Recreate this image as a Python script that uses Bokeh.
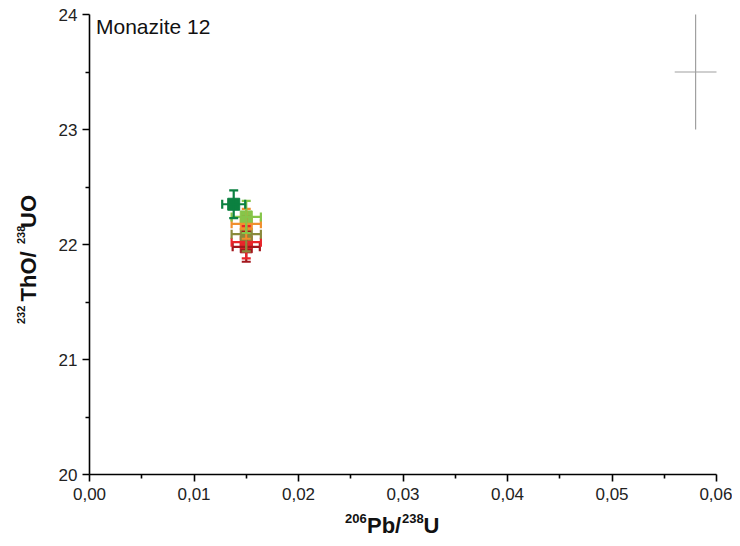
import math
from bokeh.plotting import figure
from bokeh.models import ColumnDataSource, Whisker, TeeHead, Label, FixedTicker, Range1d
from bokeh.embed import file_html
from bokeh.resources import INLINE

# ---- data ----
x_ticks = [0.00, 0.01, 0.02, 0.03, 0.04, 0.05, 0.06]
x_tick_labels = ["0,00", "0,01", "0,02", "0,03", "0,04", "0,05", "0,06"]
x_minor = [0.005, 0.015, 0.025, 0.035, 0.045, 0.055]
y_ticks = [20, 21, 22, 23, 24]
y_tick_labels = ["20", "21", "22", "23", "24"]
y_minor = [20.5, 21.5, 22.5, 23.5]

pb_u = [0.0150, 0.0150, 0.0150, 0.0150, 0.0150, 0.0138]
pb_u_err = [0.0013, 0.0014, 0.0014, 0.0014, 0.0014, 0.0011]
tho_uo = [21.98, 22.02, 22.09, 22.18, 22.24, 22.35]
tho_uo_err = [0.13, 0.14, 0.15, 0.13, 0.14, 0.12]
colors = ["#a3161c", "#e8252b", "#8a8a3c", "#f0902e", "#86c54a", "#0b8040"]

ref_x = [0.058]
ref_y = [23.5]
ref_xerr = [0.002]
ref_yerr = [0.5]

title_text = "Monazite 12"
# axis titles: (text, is_superscript)
x_title_parts = [("206", True), ("Pb/", False), ("238", True), ("U", False)]
y_title_parts = [("232", True), ("ThO/", False), ("238", True), ("UO", False)]

# ---- layout constants ----
X0, X1 = 0.0, 0.06
Y0, Y1 = 20.0, 24.0
LEFT, RIGHT, TOP, BOTTOM = 89, 16, 14, 64
W, H = 732, 538
FW = W - LEFT - RIGHT
FH = H - TOP - BOTTOM
BASE_SHIFT = 0.43  # label anchor vs. drawn baseline, in em
LH = 1.0


def px_x(px):
    return X0 + (px - LEFT) / FW * (X1 - X0)


def px_y(py):
    return Y1 - (py - TOP) / FH * (Y1 - Y0)


# the frame fills the whole canvas; axes are pinned to the data box
p = figure(width=W, height=H,
           x_range=Range1d(px_x(0), px_x(W)), y_range=Range1d(px_y(H), px_y(0)),
           output_backend="svg", toolbar_location=None,
           min_border_left=0, min_border_right=0, min_border_top=0, min_border_bottom=0)
p.title.visible = False
p.outline_line_color = None
p.xgrid.visible = False
p.ygrid.visible = False
p.background_fill_color = "white"
p.border_fill_color = "white"

p.xaxis.fixed_location = Y0
p.yaxis.fixed_location = X0
p.xaxis.bounds = (X0, X1)
p.yaxis.bounds = (Y0, Y1)
p.xaxis.ticker = FixedTicker(ticks=x_ticks, minor_ticks=x_minor)
p.yaxis.ticker = FixedTicker(ticks=y_ticks, minor_ticks=y_minor)
p.xaxis.major_label_overrides = {t: l for t, l in zip(x_ticks, x_tick_labels)}
p.yaxis.major_label_overrides = {t: l for t, l in zip(y_ticks, y_tick_labels)}

for ax in (p.xaxis, p.yaxis):
    ax.axis_line_color = "black"
    ax.axis_line_width = 1.6
    ax.major_tick_line_color = "black"
    ax.major_tick_line_width = 1.6
    ax.minor_tick_line_color = "black"
    ax.minor_tick_line_width = 1.6
    ax.major_tick_in = 0
    ax.major_tick_out = 7
    ax.minor_tick_in = 0
    ax.minor_tick_out = 4
    ax.major_label_text_font = "Liberation Sans"
    ax.major_label_text_font_size = "17px"
    ax.major_label_text_color = "#222222"
p.xaxis.major_label_standoff = 6
p.yaxis.major_label_standoff = 5

# reference error cross
ref_src = ColumnDataSource(dict(x=ref_x, y=ref_y,
                                xl=[a - b for a, b in zip(ref_x, ref_xerr)],
                                xu=[a + b for a, b in zip(ref_x, ref_xerr)],
                                yl=[a - b for a, b in zip(ref_y, ref_yerr)],
                                yu=[a + b for a, b in zip(ref_y, ref_yerr)]))
p.add_layout(Whisker(source=ref_src, base="x", lower="yl", upper="yu", dimension="height",
                     line_color="#a0a0a0", line_width=1.2, upper_head=None, lower_head=None))
p.add_layout(Whisker(source=ref_src, base="y", lower="xl", upper="xu", dimension="width",
                     line_color="#a0a0a0", line_width=1.2, upper_head=None, lower_head=None))

# data points with error bars
for xv, xe, yv, ye, c in zip(pb_u, pb_u_err, tho_uo, tho_uo_err, colors):
    src = ColumnDataSource(dict(x=[xv], y=[yv], xl=[xv - xe], xu=[xv + xe],
                                yl=[yv - ye], yu=[yv + ye]))
    p.add_layout(Whisker(source=src, base="x", lower="yl", upper="yu", dimension="height",
                         line_color=c, line_width=2.2,
                         upper_head=TeeHead(size=9, line_color=c, line_width=2.2),
                         lower_head=TeeHead(size=9, line_color=c, line_width=2.2),
                         level="glyph"))
    p.add_layout(Whisker(source=src, base="y", lower="xl", upper="xu", dimension="width",
                         line_color=c, line_width=2.2,
                         upper_head=TeeHead(size=9, line_color=c, line_width=2.2),
                         lower_head=TeeHead(size=9, line_color=c, line_width=2.2),
                         level="glyph"))
    p.scatter(x="x", y="y", source=src, marker="square", size=12,
              fill_color=c, line_color=c)

p.add_layout(Label(x=px_x(95.5), y=px_y(35 - BASE_SHIFT * 21), text=title_text,
                   text_baseline="alphabetic", text_line_height=LH,
                   text_font="Liberation Sans", text_font_size="21px", text_color="#111111"))

# x axis title with superscripts
x_pos = [344.5, 366.5, 401.5, 423.0]
for (txt, sup), xp in zip(x_title_parts, x_pos):
    fs = 13 if sup else 22
    base = 524 if sup else 534
    p.add_layout(Label(x=px_x(xp), y=px_y(base - BASE_SHIFT * fs), text=txt,
                       text_baseline="alphabetic", text_align="left", text_line_height=LH,
                       text_font="Liberation Sans", text_font_style="bold",
                       text_font_size=f"{fs}px", text_color="#111111"))

# y axis title with superscripts (rotated)
y_pos = [323.5, 301.0, 243.5, 227.5]
for (txt, sup), yp in zip(y_title_parts, y_pos):
    fs = 11 if sup else 22
    base = 25 if sup else 37
    p.add_layout(Label(x=px_x(base - BASE_SHIFT * fs), y=px_y(yp), text=txt, angle=math.pi / 2,
                       text_baseline="alphabetic", text_align="left", text_line_height=LH,
                       text_font="Liberation Sans", text_font_style="bold",
                       text_font_size=f"{fs}px", text_color="#111111"))

open("out.html", "w").write(file_html(p, INLINE))
